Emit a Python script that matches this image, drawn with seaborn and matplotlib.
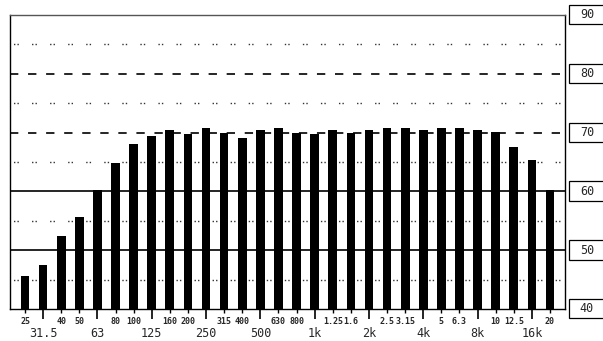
import matplotlib
matplotlib.use("Agg")
import matplotlib.pyplot as plt
import matplotlib.transforms as mtransforms
from matplotlib.patches import Rectangle
import seaborn as sns

# third-octave band centres and levels (dB)
bands = ["25", "31.5", "40", "50", "63", "80", "100", "125", "160", "200",
         "250", "315", "400", "500", "630", "800", "1k", "1.25", "1.6", "2k",
         "2.5", "3.15", "4k", "5", "6.3", "8k", "10", "12.5", "16k", "20"]
levels = [45.6, 47.5, 52.4, 55.6, 60.3, 64.9, 68.0, 69.5, 70.5, 69.8,
          70.8, 70.0, 69.1, 70.5, 70.8, 70.0, 69.8, 70.5, 70.0, 70.5,
          70.8, 70.8, 70.5, 70.8, 70.8, 70.5, 70.1, 67.6, 65.3, 60.2]
octave_bands = ["31.5", "63", "125", "250", "500", "1k", "2k", "4k", "8k", "16k"]
scale_ticks = [40, 50, 60, 70, 80, 90]
dashed_levels = [70, 80]
solid_levels = [50, 60]
dotted_levels = [45, 55, 65, 75, 85]

sns.set_style("white")
plt.rcParams["font.family"] = ["DejaVu Sans Mono"]
plt.rcParams["lines.scale_dashes"] = False

fig = plt.figure(figsize=(6.03, 3.41), dpi=100)
ax = fig.add_axes([10 / 603, 1 - 309 / 341, 555 / 603, 294 / 341])

sns.barplot(x=bands, y=levels, order=bands, color="black", width=0.48,
            saturation=1, linewidth=0, ax=ax, zorder=2)

ax.set_ylim(40, 90)
xmin, xmax = -0.83, len(bands) - 1 + 0.83
ax.set_xlim(xmin, xmax)

# grid lines drawn over the bars (black on black, so only gaps show them)
for lv in dotted_levels:
    ax.axhline(lv, color="#333333", lw=1.0,
               linestyle=(10.5, (1, 1.5, 1, 9.5)), zorder=4)
for lv in dashed_levels:
    ax.axhline(lv, color="black", lw=1.2, linestyle=(0, (6, 7)), zorder=4)
for lv in solid_levels:
    ax.axhline(lv, color="black", lw=1.2, linestyle="-", zorder=4)

for side in ["left", "right", "top", "bottom"]:
    ax.spines[side].set_visible(True)
    ax.spines[side].set_color("black")
    ax.spines[side].set_linewidth(1.0)
ax.spines["top"].set_color("#555555")

# ticks: long for octave bands, short for the rest
oct_pos = [i for i, b in enumerate(bands) if b in octave_bands]
other_pos = [i for i, b in enumerate(bands) if b not in octave_bands]
ax.set_xticks(oct_pos)
ax.set_xticks(other_pos, minor=True)
ax.set_xticklabels([])
ax.tick_params(axis="x", which="major", direction="out", length=7, width=1.2,
               color="black", bottom=True)
ax.tick_params(axis="x", which="minor", direction="out", length=3, width=1.0,
               color="black", bottom=True)
ax.set_yticks([])
ax.set_xlabel("")
ax.set_ylabel("")

trans = mtransforms.blended_transform_factory(ax.transData, fig.transFigure)
for i in other_pos:
    ax.text(i, 1 - 321.5 / 341, bands[i], transform=trans, ha="center", va="center",
            fontsize=6, fontweight="bold")
for i in oct_pos:
    ax.text(i, 1 - 333.5 / 341, bands[i], transform=trans, ha="center", va="center",
            fontsize=8.5)

# boxed scale values on the right
rtrans = mtransforms.blended_transform_factory(ax.transAxes, ax.transData)
for v in scale_ticks:
    ax.add_patch(Rectangle((1.0 + 4 / 555, v - 1.6), 40 / 555, 3.3,
                           transform=rtrans, clip_on=False, facecolor="white",
                           edgecolor="black", lw=0.9))
    ax.text(1.0 + 22 / 555, v, str(v), transform=rtrans, ha="center", va="center",
            fontsize=8.5, clip_on=False)

fig.savefig("out.png", dpi=100)
